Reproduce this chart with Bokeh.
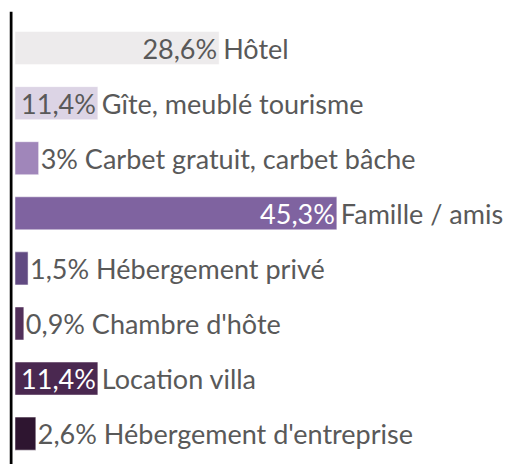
from bokeh.plotting import figure
from bokeh.models import Range1d, ColumnDataSource, Span
from bokeh.core.properties import value
from bokeh.embed import file_html
from bokeh.resources import INLINE

categories = ["Hôtel", "Gîte, meublé tourisme", "Carbet gratuit, carbet bâche",
              "Famille / amis", "Hébergement privé", "Chambre d'hôte",
              "Location villa", "Hébergement d'entreprise"]
values = [28.6, 11.4, 3.0, 45.3, 1.5, 0.9, 11.4, 2.6]
colors = ["#EDEBEC", "#DCD4E5", "#A086BA", "#7F63A0", "#614A82", "#52305A", "#4A2850", "#2E1530"]
inside_label_colors = ["#595959", "#595959", "#FFFFFF", "#FFFFFF", "#FFFFFF", "#FFFFFF", "#FFFFFF", "#FFFFFF"]

FONT = "Lato"
FS = "27px"
TXT = "#595959"

def fmt(v):
    return f"{v:g}".replace(".", ",") + "%"

idx = list(range(len(categories)))
px_x = 7.05
px_y = 55.08
W, H = 505, 464
left_b, top_b = 9, 11
frame_w = W - left_b
frame_h = H - top_b
x0 = -8.0 / px_x
y_top = -0.664
bar_start = -2.5 / px_x

p = figure(width=W, height=H, output_backend="svg", toolbar_location=None,
           x_range=Range1d(x0, x0 + frame_w / px_x),
           y_range=Range1d(y_top + frame_h / px_y, y_top),
           min_border_left=left_b, min_border_right=0,
           min_border_top=top_b, min_border_bottom=0)
p.xaxis.visible = False
p.yaxis.visible = False
p.grid.visible = False
p.outline_line_color = None
p.background_fill_color = None
p.border_fill_color = "white"

p.add_layout(Span(location=x0 + 1.5 / px_x, dimension="height", line_color="black", line_width=3))

src = ColumnDataSource(dict(y=idx, v=values, c=colors))
p.hbar(y="y", left=bar_start, right="v", height=0.6, fill_color="c", line_color="white",
       line_width=0.5, source=src)

threshold = 8
in_y, in_x, in_t, in_c = [], [], [], []
nm_y, nm_x, nm_t, nm_o = [], [], [], []
for i, (cat, v) in enumerate(zip(categories, values)):
    if v >= threshold:
        in_y.append(i); in_x.append(v); in_t.append(fmt(v)); in_c.append(inside_label_colors[i])
        nm_y.append(i); nm_x.append(v); nm_t.append(cat); nm_o.append(4)
    else:
        nm_y.append(i); nm_x.append(v); nm_t.append(fmt(v) + " " + cat); nm_o.append(2)

p.text(x="x", y="y", text="t", text_color="c", source=ColumnDataSource(dict(x=in_x, y=in_y, t=in_t, c=in_c)),
       text_font=value(FONT), text_font_size=FS, text_align="right", text_baseline="middle", x_offset=-2)
p.text(x="x", y="y", text="t", x_offset="o", source=ColumnDataSource(dict(x=nm_x, y=nm_y, t=nm_t, o=nm_o)),
       text_color=TXT, text_font=value(FONT), text_font_size=FS, text_align="left",
       text_baseline="middle")

open("out.html", "w").write(file_html(p, INLINE))
